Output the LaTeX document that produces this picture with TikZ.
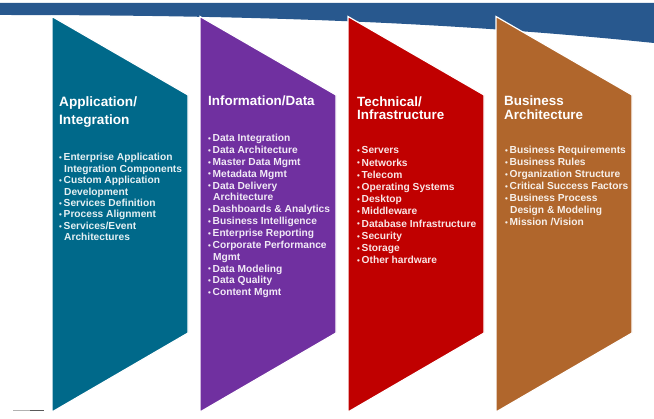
\documentclass[tikz,border=0pt]{standalone}
\usepackage{fontspec}
\setmainfont{Liberation Sans}
\definecolor{bandblue}{HTML}{28588E}
\definecolor{cteal}{HTML}{00698A}
\definecolor{cpurple}{HTML}{7030A0}
\definecolor{cred}{HTML}{C00000}
\definecolor{cbrown}{HTML}{B0662C}
\newcommand\bl{\makebox[4.5pt][l]{\raisebox{0.3pt}{\fontsize{8}{8}\selectfont\textbullet}}}
\newcommand\ii{\hspace*{5pt}}
\begin{document}
\begin{tikzpicture}[x=1pt,y=-1pt,
  colshape/.style={draw=white,line width=1.2pt,line join=miter},
  title/.style={anchor=base west,inner sep=0pt,text=white},
  list/.style={anchor=base west,inner sep=0pt}]
\useasboundingbox (0,0) rectangle (654,419);
% top band
\fill[bandblue] (0,3) -- (654,3) -- (654,43) .. controls (450,22) and (250,15) .. (0,15) -- cycle;
% column shapes
\foreach \L/\c in {52/cteal,200/cpurple,348/cred,496/cbrown}{
  \filldraw[fill=\c,colshape] (\L,16.5) -- (\L+136,95) -- (\L+136,333) -- (\L,412) -- cycle;
}
% small mark bottom left
\draw[gray!60,line width=0.8pt] (13,410.5) -- (30,410.5);
\draw[black!65,line width=1.4pt] (30,410.3) -- (44,410.3);
% titles
\node[title] (t1) at (59,107) {\parbox[t]{130pt}{\raggedright\bfseries\fontsize{13.6}{18}\selectfont Application/\\Integration}};
\node[title] (t2) at (208,106) {\parbox[t]{130pt}{\raggedright\bfseries\fontsize{13.4}{18}\selectfont Information/Data}};
\node[title] (t3) at (357,106.7) {\parbox[t]{130pt}{\raggedright\bfseries\fontsize{13.4}{13}\selectfont Technical/\\Infrastructure}};
\node[title] (t4) at (504,106) {\parbox[t]{130pt}{\raggedright\bfseries\fontsize{13.4}{14}\selectfont Business\\Architecture}};
% lists
\node[list,text=white!90!cteal] (l1) at (59,161) {\parbox[t]{130pt}{\raggedright\bfseries\fontsize{10.2}{11.4}\selectfont
\bl Enterprise Application\\
\ii Integration Components\\
\bl Custom Application\\
\ii Development\\
\bl Services Definition\\
\bl Process Alignment\\
\bl Services/Event\\
\ii Architectures}};
\node[list,text=white!90!cpurple] (l2) at (208,141.7) {\parbox[t]{130pt}{\raggedright\bfseries\fontsize{10.2}{11.85}\selectfont
\bl Data Integration\\
\bl Data Architecture\\
\bl Master Data Mgmt\\
\bl Metadata Mgmt\\
\bl Data Delivery\\
\ii Architecture\\
\bl Dashboards \& Analytics\\
\bl Business Intelligence\\
\bl Enterprise Reporting\\
\bl Corporate Performance\\
\ii Mgmt\\
\bl Data Modeling\\
\bl Data Quality\\
\bl Content Mgmt}};
\node[list,text=white!90!cred] (l3) at (357,154) {\parbox[t]{130pt}{\raggedright\bfseries\fontsize{10.2}{12.2}\selectfont
\bl Servers\\
\bl Networks\\
\bl Telecom\\
\bl Operating Systems\\
\bl Desktop\\
\bl Middleware\\
\bl Database Infrastructure\\
\bl Security\\
\bl Storage\\
\bl Other hardware}};
\node[list,text=white!90!cbrown] (l4) at (505,154) {\parbox[t]{130pt}{\raggedright\bfseries\fontsize{10.2}{12}\selectfont
\bl Business Requirements\\
\bl Business Rules\\
\bl Organization Structure\\
\bl Critical Success Factors\\
\bl Business Process\\
\ii Design \& Modeling\\
\bl Mission /Vision}};
\end{tikzpicture}
\end{document}
